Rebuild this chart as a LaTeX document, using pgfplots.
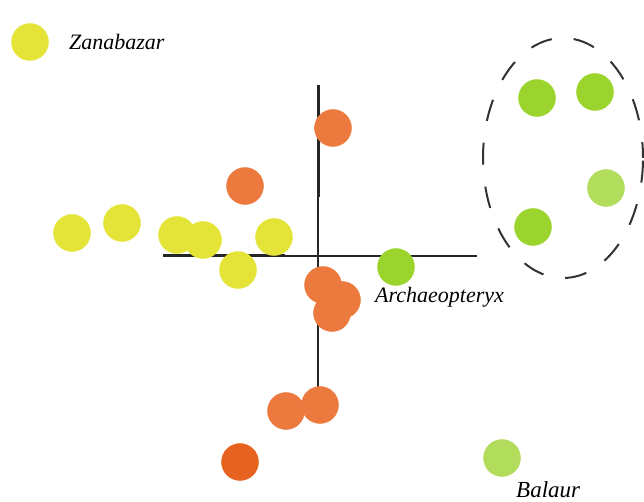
\documentclass[border=0pt]{standalone}
\usepackage{pgfplots}
\pgfplotsset{compat=1.18}
\usepackage{fontspec}
\setmainfont{Liberation Serif}
\definecolor{cyel}{HTML}{E4E438}
\definecolor{cora}{HTML}{EC7A3E}
\definecolor{corad}{HTML}{E6621E}
\definecolor{cgrn}{HTML}{9CD42E}
\definecolor{cgrnl}{HTML}{B2DC5C}
\begin{document}
\begin{tikzpicture}
\begin{axis}[
  x=1pt, y=1pt,
  xmin=0, xmax=644, ymin=0, ymax=502,
  hide axis, clip=false,
  scale only axis,
]
\path (rel axis cs:0,0) rectangle (rel axis cs:1,1);
% cross axes
\addplot[black!85, line width=1.3pt] coordinates {(163,246) (477,246)};
\addplot[black!85, line width=3pt] coordinates {(163,246) (285,246)};
\addplot[black!85, line width=1.3pt] coordinates {(318,417) (318,108)};
\addplot[black!85, line width=3pt] coordinates {(318,417) (318,305)};
% dashed ellipse
\draw[black!80, line width=2pt, dash pattern=on 22pt off 22pt, dash phase=6pt]
  (axis cs:563,344) ellipse [x radius=80, y radius=120];
% yellow
\addplot[only marks, mark=*, mark size=18.5pt, color=cyel]
  coordinates {(30,460) (72,269) (122,279) (177,267) (203,262) (238,232) (274,265)};
% orange
\addplot[only marks, mark=*, mark size=18.5pt, color=cora]
  coordinates {(333,374) (245,316) (323,217) (342,202) (332,189) (286,91) (320,97)};
\addplot[only marks, mark=*, mark size=18.5pt, color=corad]
  coordinates {(240,40)};
% green
\addplot[only marks, mark=*, mark size=18.5pt, color=cgrn]
  coordinates {(396,235) (537,404) (595,410) (533,275)};
\addplot[only marks, mark=*, mark size=18.5pt, color=cgrnl]
  coordinates {(606,314) (502,44)};
% labels
\node[anchor=base west, inner sep=0pt, font=\fontsize{22}{26}\selectfont\itshape] at (axis cs:69,452) {Zanabazar};
\node[anchor=base west, inner sep=0pt, font=\fontsize{22}{26}\selectfont\itshape] at (axis cs:375,199) {Archaeopteryx};
\node[anchor=base west, inner sep=0pt, font=\fontsize{23}{27}\selectfont\itshape] at (axis cs:516,4) {Balaur};
\end{axis}
\end{tikzpicture}
\end{document}
